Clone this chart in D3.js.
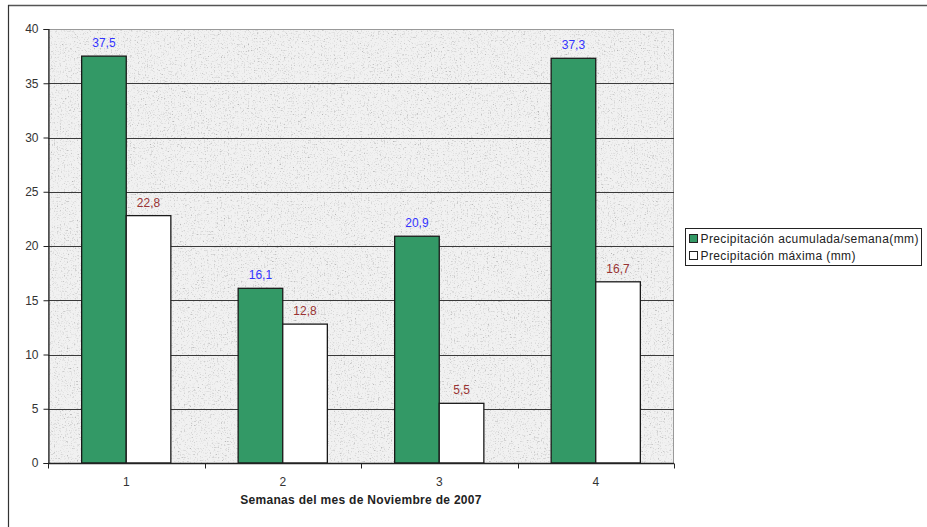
<!DOCTYPE html>
<html>
<head>
<meta charset="utf-8">
<script src="https://cdn.jsdelivr.net/npm/d3@7"></script>
<style>
  body { margin: 0; background: #fff; }
  svg { display: block; }
</style>
</head>
<body>
<svg id="chart" width="927" height="527"></svg>
<script>
// Weekly rainfall, November 2007
const weeks = ["1", "2", "3", "4"];
const accumulated = [37.5, 16.1, 20.9, 37.3];
const maximum = [22.8, 12.8, 5.5, 16.7];
const accumulatedLabels = ["37,5", "16,1", "20,9", "37,3"];
const maximumLabels = ["22,8", "12,8", "5,5", "16,7"];
const yTicks = [0, 5, 10, 15, 20, 25, 30, 35, 40];
const seriesNames = ["Precipitación acumulada/semana(mm)", "Precipitación máxima (mm)"];
const xTitle = "Semanas del mes de Noviembre de 2007";

const svg = d3.select("#chart");
const margin = { left: 48, top: 29, right: 674, bottom: 463 };

// Granite-like plot background: soft grey speckle on a light base
const defs = svg.append("defs");
const f = defs.append("filter").attr("id", "granite")
  .attr("x", 0).attr("y", 0).attr("width", "100%").attr("height", "100%");
f.append("feTurbulence").attr("type", "fractalNoise")
  .attr("baseFrequency", 0.7).attr("numOctaves", 3).attr("seed", 3).attr("result", "n");
f.append("feColorMatrix").attr("in", "n").attr("type", "matrix")
  .attr("values", "0 0 0 0 0  0 0 0 0 0  0 0 0 0 0  -1.4 -1.4 -1.4 0 2.0")
  .attr("result", "a");
f.append("feGaussianBlur").attr("in", "a").attr("stdDeviation", 0.5).attr("result", "ab");
f.append("feFlood").attr("flood-color", "#b4b4b4").attr("result", "c");
f.append("feComposite").attr("in", "c").attr("in2", "ab").attr("operator", "in").attr("result", "spots");
f.append("feFlood").attr("flood-color", "#f1f1f1").attr("result", "base");
f.append("feMerge").selectAll("feMergeNode").data(["base", "spots"]).join("feMergeNode")
  .attr("in", d => d);

const x = d3.scaleBand().domain(weeks).range([margin.left, margin.right]).paddingInner(0).paddingOuter(0);
const y = d3.scaleLinear().domain([0, 40]).range([margin.bottom, margin.top]);

// Outer frame (top and left edges)
svg.append("line").attr("x1", 8).attr("x2", 927).attr("y1", 5.5).attr("y2", 5.5)
  .attr("stroke", "#555").attr("stroke-width", 1.5);
svg.append("line").attr("x1", 8.5).attr("x2", 8.5).attr("y1", 5).attr("y2", 527)
  .attr("stroke", "#333").attr("stroke-width", 1.2);

// Plot area
svg.append("rect")
  .attr("x", margin.left).attr("y", margin.top)
  .attr("width", margin.right - margin.left).attr("height", margin.bottom - margin.top)
  .attr("filter", "url(#granite)");
svg.append("rect")
  .attr("x", margin.left + 0.5).attr("y", margin.top + 0.5)
  .attr("width", margin.right - margin.left - 1).attr("height", margin.bottom - margin.top)
  .attr("fill", "none").attr("stroke", "#999").attr("stroke-width", 1);

// Gridlines
svg.append("g").selectAll("line").data(yTicks.filter(d => d > 0 && d < 40)).join("line")
  .attr("x1", margin.left).attr("x2", margin.right)
  .attr("y1", d => Math.round(y(d)) + 0.5).attr("y2", d => Math.round(y(d)) + 0.5)
  .attr("stroke", "#3a3a3a").attr("stroke-width", 1);

// Bars
const inner = 0.215;
const barW = x.bandwidth() * (1 - 2 * inner) / 2;
const groups = svg.append("g").selectAll("g").data(weeks).join("g");
groups.append("rect")
  .attr("x", (d, i) => x(d) + x.bandwidth() * inner)
  .attr("y", (d, i) => y(accumulated[i]))
  .attr("width", barW)
  .attr("height", (d, i) => y(0) - y(accumulated[i]))
  .attr("fill", "#339966").attr("stroke", "#1a1a1a").attr("stroke-width", 1.3);
groups.append("rect")
  .attr("x", (d, i) => x(d) + x.bandwidth() * inner + barW)
  .attr("y", (d, i) => y(maximum[i]))
  .attr("width", barW)
  .attr("height", (d, i) => y(0) - y(maximum[i]))
  .attr("fill", "#ffffff").attr("stroke", "#1a1a1a").attr("stroke-width", 1.3);

// Value labels
groups.append("text")
  .attr("x", (d, i) => x(d) + x.bandwidth() * inner + barW / 2)
  .attr("y", (d, i) => y(accumulated[i]) - 9)
  .attr("text-anchor", "middle")
  .attr("font-family", "Liberation Sans, Arial, sans-serif").attr("font-size", 12)
  .attr("fill", "#3333ff")
  .text((d, i) => accumulatedLabels[i]);
groups.append("text")
  .attr("x", (d, i) => x(d) + x.bandwidth() * inner + barW * 1.5)
  .attr("y", (d, i) => y(maximum[i]) - 9)
  .attr("text-anchor", "middle")
  .attr("font-family", "Liberation Sans, Arial, sans-serif").attr("font-size", 12)
  .attr("fill", "#993333")
  .text((d, i) => maximumLabels[i]);

// Y axis
const yAxis = svg.append("g").attr("transform", `translate(${margin.left + 0.5},0)`)
  .call(d3.axisLeft(y).tickValues(yTicks).tickSize(5).tickPadding(5));
yAxis.select(".domain").attr("stroke", "#222").attr("stroke-width", 1.2);
yAxis.selectAll(".tick line").attr("stroke", "#222");
yAxis.selectAll("text").attr("font-family", "Liberation Sans, Arial, sans-serif")
  .attr("font-size", 12).attr("fill", "#333");

// X axis with ticks on category boundaries
const xAxisG = svg.append("g").attr("transform", `translate(0,${margin.bottom + 0.5})`);
xAxisG.append("line").attr("x1", margin.left).attr("x2", margin.right)
  .attr("stroke", "#222").attr("stroke-width", 1.3);
const bounds = weeks.map(d => x(d)).concat([margin.right]);
xAxisG.selectAll("line.tk").data(bounds).join("line").attr("class", "tk")
  .attr("x1", d => Math.round(d) + 0.5).attr("x2", d => Math.round(d) + 0.5)
  .attr("y1", 0).attr("y2", 5).attr("stroke", "#222");
xAxisG.selectAll("text").data(weeks).join("text")
  .attr("x", d => x(d) + x.bandwidth() / 2).attr("y", 22)
  .attr("text-anchor", "middle")
  .attr("font-family", "Liberation Sans, Arial, sans-serif").attr("font-size", 12).attr("fill", "#333")
  .text(d => d);

// Axis title
svg.append("text")
  .attr("x", (margin.left + margin.right) / 2).attr("y", 504)
  .attr("text-anchor", "middle")
  .attr("font-family", "Liberation Sans, Arial, sans-serif").attr("font-size", 12)
  .attr("font-weight", "bold").attr("fill", "#222").attr("letter-spacing", 0.3)
  .text(xTitle);

// Legend
const lg = svg.append("g").attr("transform", "translate(685.5,228.5)");
lg.append("rect").attr("width", 236).attr("height", 37)
  .attr("fill", "#fff").attr("stroke", "#222").attr("stroke-width", 1);
const items = lg.selectAll("g").data(seriesNames).join("g")
  .attr("transform", (d, i) => `translate(4,${5 + i * 17})`);
items.append("rect").attr("width", 8).attr("height", 8).attr("y", 1)
  .attr("fill", (d, i) => i === 0 ? "#339966" : "#fff").attr("stroke", "#222");
items.append("text").attr("x", 11).attr("y", 9.5)
  .attr("font-family", "Liberation Sans, Arial, sans-serif").attr("font-size", 12)
  .attr("letter-spacing", 0.4).attr("fill", "#222")
  .text(d => d);
</script>
</body>
</html>
